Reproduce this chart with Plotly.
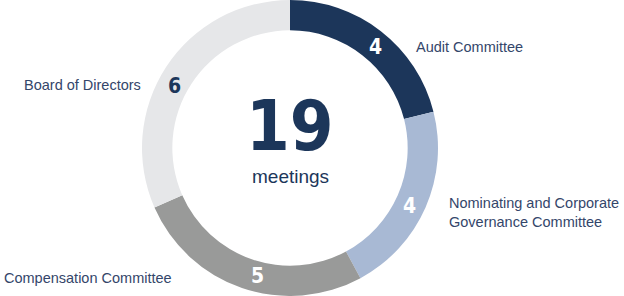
import plotly.graph_objects as go

categories = ["Audit Committee", "Nominating and Corporate<br>Governance Committee",
              "Compensation Committee", "Board of Directors"]
values = [4, 4, 5, 6]
colors = ["#1c365a", "#a8b9d4", "#999a99", "#e6e7e9"]
total_label = "19"
sub_label = "meetings"

W, H = 624, 296
cx, cy, R = 290, 148, 148
NUMFONT = "DejaVu Sans Condensed, Roboto, sans-serif"

fig = go.Figure(go.Pie(
    labels=categories, values=values, hole=0.795, sort=False, direction="clockwise",
    rotation=0, marker=dict(colors=colors, line=dict(width=0)), textinfo="none",
    hoverinfo="label+value", showlegend=False,
    domain=dict(x=[(cx - R) / W, (cx + R) / W], y=[0, 1]),
))

def px(x, y):
    return x / W, 1 - y / H

anns = []
num_pos = [(375, 47, "white"), (409, 206, "white"), (257, 276, "white"), (174, 86, "#1c365a")]
for v, (x, y, c) in zip(values, num_pos):
    ax, ay = px(x, y)
    anns.append(dict(x=ax, y=ay, xref="paper", yref="paper", text=f"<b>{v}</b>", showarrow=False,
                     font=dict(family=NUMFONT, size=21, color=c),
                     xanchor="center", yanchor="middle"))
lab_pos = [(414, 47, "left"), (447, 212, "left"), (2, 278, "left"), (22, 85, "left")]
for t, (x, y, a) in zip(categories, lab_pos):
    ax, ay = px(x, y)
    anns.append(dict(x=ax, y=ay, xref="paper", yref="paper", text=t, showarrow=False,
                     font=dict(family="Liberation Sans", size=14.5, color="#34466a"),
                     xanchor=a, yanchor="middle", align="left"))
ax, ay = px(cx, 126)
anns.append(dict(x=ax, y=ay, xref="paper", yref="paper", text=f"<b>{total_label}</b>", showarrow=False,
                 font=dict(family=NUMFONT, size=70, color="#1c365a"),
                 xanchor="center", yanchor="middle"))
ax, ay = px(cx, 176)
anns.append(dict(x=ax, y=ay, xref="paper", yref="paper", text=sub_label, showarrow=False,
                 font=dict(family="Liberation Sans", size=19, color="#1c365a"),
                 xanchor="center", yanchor="middle"))

fig.update_layout(width=W, height=H, margin=dict(l=0, r=0, t=0, b=0),
                  paper_bgcolor="white", plot_bgcolor="white", annotations=anns)
fig.write_html("out.html")
